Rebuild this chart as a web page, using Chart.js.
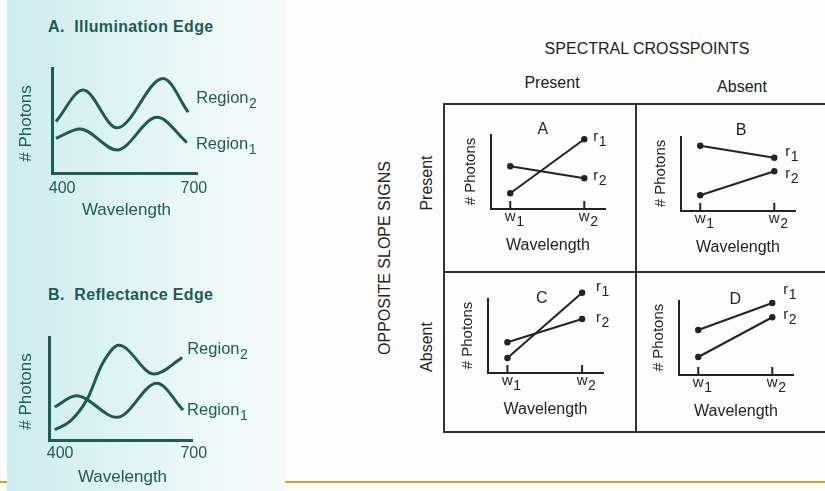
<!DOCTYPE html>
<html><head><meta charset="utf-8">
<script src="https://cdn.jsdelivr.net/npm/chart.js@4.4.1/dist/chart.umd.min.js"></script>
<style>
html,body{margin:0;padding:0;}
body{width:825px;height:491px;position:relative;overflow:hidden;background:#fdfdfd;font-family:"Liberation Sans",Arial,Helvetica,sans-serif;}
.abs{position:absolute;}
#orange{left:0;top:481px;width:825px;height:2px;background:#d9a521;}
#cyan{left:7px;top:0;width:278px;height:491px;background:linear-gradient(90deg,#cdecf0 0%,#dcf2f4 35%,#ecf8f8 70%,#f5fbfb 100%);}
canvas{position:absolute;left:0;top:0;}
.lc{position:absolute;transform:translateY(-50%);line-height:1;white-space:nowrap;}
.c{position:absolute;transform:translate(-50%,-50%);line-height:1;white-space:nowrap;}
.rot{position:absolute;transform:translate(-50%,-50%) rotate(-90deg);line-height:1;white-space:nowrap;}
.hl{position:absolute;background:#333;height:2px;}
.vl{position:absolute;background:#333;width:2px;}
.teal{color:#1d5c52;}
.ink{color:#222;}
</style></head>
<body>
<div id="orange" class="abs"></div>
<div id="cyan" class="abs"></div>

<div class="lc teal" style="left:48px;top:27px;font-size:16px;font-weight:bold;letter-spacing:0.35px;">A.&nbsp; Illumination Edge</div>
<div class="lc teal" style="left:48px;top:295px;font-size:16px;font-weight:bold;letter-spacing:0.35px;">B.&nbsp; Reflectance Edge</div>

<div class="c ink" style="left:647px;top:49px;font-size:16px;">SPECTRAL CROSSPOINTS</div>
<div class="c ink" style="left:552px;top:83px;font-size:16px;">Present</div>
<div class="c ink" style="left:742px;top:87px;font-size:16px;">Absent</div>
<div class="rot ink" style="left:385px;top:258px;font-size:16px;">OPPOSITE SLOPE SIGNS</div>
<div class="rot ink" style="left:427px;top:183px;font-size:16px;">Present</div>
<div class="rot ink" style="left:427px;top:347px;font-size:16px;">Absent</div>

<div class="hl" style="left:443px;top:103px;width:400px;"></div>
<div class="hl" style="left:443px;top:271px;width:400px;"></div>
<div class="hl" style="left:443px;top:431px;width:400px;"></div>
<div class="vl" style="left:443px;top:103px;height:330px;"></div>
<div class="vl" style="left:635px;top:103px;height:330px;"></div>

<script>
// ---------------- DATA ----------------
const wavelengthTicks = [400, 700];
const regionNames = ['Region1', 'Region2'];

const illumRegion1X = [386, 441, 525, 616, 684];
const illumRegion1Y = [33, 42, 22, 53, 29];
const illumRegion2X = [386, 448, 525, 630, 687];
const illumRegion2Y = [49, 79, 43, 90, 58];

const reflRegion1X = [388, 436, 528, 617, 676];
const reflRegion1Y = [32, 43, 22, 55, 29];
const reflRegion2X = [388, 422, 460, 496, 532, 611, 674];
const reflRegion2Y = [10, 18, 39, 75, 92, 64, 80];

const crossCategories = ['w1', 'w2'];
const crossSeriesNames = ['r1', 'r2'];
const panelA_r1 = [2.1, 9.3], panelA_r2 = [5.7, 4.1];
const panelB_r1 = [8.7, 7.1], panelB_r2 = [2.1, 5.3];
const panelC_r1 = [2.0, 10.7], panelC_r2 = [4.1, 7.2];
const panelD_r1 = [6.0, 9.6], panelD_r2 = [2.4, 7.7];

// ---------------- STYLE ----------------
const TEAL = '#1d5c52', INK = '#232323';
const FONT = '"Liberation Sans", Arial, Helvetica, sans-serif';
const f = (s, w) => (w || 'normal') + ' ' + s + 'px ' + FONT;

function splitLabel(s) { const m = s.match(/^(\D+)(\d*)$/); return [m[1], m[2]]; }

function drawSub(ctx, x, y, text, mainFont, subFont, subDy, align) {
  const [main, sub] = splitLabel(text);
  ctx.font = mainFont; const wm = ctx.measureText(main).width;
  ctx.font = subFont; const ws = ctx.measureText(sub).width;
  let x0 = x;
  if (align === 'center') x0 = x - (wm + ws) / 2;
  else if (align === 'mainCenter') x0 = x - wm / 2;
  ctx.textAlign = 'left';
  ctx.font = mainFont; ctx.fillText(main, x0, y);
  ctx.font = subFont; ctx.fillText(sub, x0 + wm + 0.5, y + subDy);
}

const decor = {
  id: 'decor',
  afterDatasetsDraw(chart, args, o) {
    const ctx = chart.ctx, a = chart.chartArea, xs = chart.scales.x, ys = chart.scales.y;
    ctx.save();
    ctx.fillStyle = o.color; ctx.strokeStyle = o.color; ctx.textBaseline = 'alphabetic';
    // y axis line up to a given value (when the scale leaves headroom above it)
    if (o.yAxisTop != null) {
      ctx.lineWidth = o.axisWidth; ctx.beginPath();
      const x = xs.getPixelForValue(xs.min);
      ctx.moveTo(x, ys.getPixelForValue(ys.min) + o.axisWidth / 2);
      ctx.lineTo(x, ys.getPixelForValue(o.yAxisTop));
      ctx.stroke();
    }
    // tick marks and tick labels
    o.tickValues.forEach((v, i) => {
      const px = xs.getPixelForValue(v);
      if (o.tickMark) {
        ctx.lineWidth = 2; ctx.beginPath();
        ctx.moveTo(px, a.bottom); ctx.lineTo(px, a.bottom - o.tickMark); ctx.stroke();
      }
      const lab = String(o.tickLabels[i]);
      if (o.tickSub) drawSub(ctx, px, a.bottom + o.tickDy, lab, o.tickFont, o.tickSubFont, o.tickSubDy, 'mainCenter');
      else { ctx.font = o.tickFont; ctx.textAlign = 'center'; ctx.fillText(lab, px, a.bottom + o.tickDy); }
    });
    // x title
    ctx.font = o.xTitleFont; ctx.textAlign = 'center';
    ctx.fillText(o.xTitle, (a.left + a.right) / 2 + (o.xTitleDx || 0), a.bottom + o.xTitleDy);
    // y title
    const yTop = o.yAxisTop != null ? ys.getPixelForValue(o.yAxisTop) : a.top;
    ctx.save();
    ctx.translate(o.yTitleX != null ? o.yTitleX : a.left - o.yTitleDx, (yTop + a.bottom) / 2 + (o.yTitleDy || 0));
    ctx.rotate(-Math.PI / 2);
    ctx.font = o.yTitleFont; ctx.textAlign = 'center';
    ctx.fillText(o.yTitle, 0, 0.36 * o.yTitleSize);
    ctx.restore();
    // series labels at last point of each dataset
    chart.data.datasets.forEach((ds, i) => {
      const meta = chart.getDatasetMeta(i);
      const last = meta.data[meta.data.length - 1];
      const off = o.labelOffsets[i];
      drawSub(ctx, last.x + off[0], last.y + off[1], o.seriesNames[i], o.labelFont, o.labelSubFont, o.labelSubDy, 'left');
    });
    // panel letter
    if (o.letter) {
      ctx.font = o.letterFont; ctx.textAlign = 'center';
      ctx.fillText(o.letter, xs.getPixelForValue(o.letterPos[0]), ys.getPixelForValue(o.letterPos[1]) + 0.36 * 16);
    }
    ctx.restore();
  }
};

function makeCanvas() {
  const c = document.createElement('canvas');
  c.width = 825; c.height = 491;
  document.body.appendChild(c);
  return c;
}
function padFor(area) { return { left: area[0], top: area[1], right: 825 - area[2], bottom: 491 - area[3] }; }
function axis(min, max, color, width, isX, showBorder) {
  return {
    type: 'linear', min, max, display: true,
    grid: { display: false, drawTicks: false },
    border: { display: showBorder !== false, color, width },
    ticks: { display: false },
    afterFit(s) { if (isX) s.height = 0; else s.width = 0; }
  };
}
function pts(xsArr, ysArr) { return xsArr.map((x, i) => ({ x, y: ysArr[i] })); }

// ---------------- LEFT: smooth spectra ----------------
function spectrumChart(area, xmin, xmax, r1, r2, tickDy, labelOffsets) {
  new Chart(makeCanvas(), {
    type: 'line',
    data: {
      datasets: [r1, r2].map(d => ({
        data: d, borderColor: TEAL, borderWidth: 3, pointRadius: 0,
        cubicInterpolationMode: 'monotone', fill: false, clip: false
      }))
    },
    options: {
      responsive: false, animation: false, devicePixelRatio: 1,
      layout: { padding: padFor(area) },
      events: [],
      plugins: {
        legend: { display: false }, tooltip: { enabled: false },
        decor: {
          color: TEAL,
          tickValues: wavelengthTicks, tickLabels: wavelengthTicks, tickMark: 0, tickSub: false,
          tickFont: f(16), tickDy: tickDy,
          xTitle: 'Wavelength', xTitleFont: f(17), xTitleDy: 42, xTitleDx: 2,
          yTitle: '# Photons', yTitleFont: f(17), yTitleSize: 17, yTitleX: 25, yTitleDy: 3,
          seriesNames: regionNames, labelOffsets,
          labelFont: f(16.5), labelSubFont: f(14), labelSubDy: 5
        }
      },
      scales: { x: axis(xmin, xmax, TEAL, 3, true), y: axis(0, 100, TEAL, 3, false) }
    },
    plugins: [decor]
  });
}

spectrumChart([52, 68, 197, 173], 377, 707,
  pts(illumRegion1X, illumRegion1Y), pts(illumRegion2X, illumRegion2Y), 20, [[9, 6], [8, -9]]);
spectrumChart([49, 337, 192, 440], 375, 696,
  pts(reflRegion1X, reflRegion1Y), pts(reflRegion2X, reflRegion2Y), 18, [[4, 5], [5, -4]]);

// ---------------- RIGHT: crosspoint panels ----------------
// area top is the top of the drawn y axis; the scale keeps one unit of headroom above it
function crossChart(area, letter, letterPos, r1, r2, labelOffsets) {
  const xv = crossCategories.map((c, i) => i + 1);
  const unit = (area[3] - area[1]) / 10;
  const plot = [area[0], area[1] - unit, area[2], area[3]];
  new Chart(makeCanvas(), {
    type: 'line',
    data: {
      datasets: [r1, r2].map(d => ({
        data: d.map((y, i) => ({ x: xv[i], y })),
        borderColor: INK, borderWidth: 2, tension: 0,
        pointRadius: 3.2, pointBackgroundColor: INK, pointBorderWidth: 0,
        fill: false, clip: false
      }))
    },
    options: {
      responsive: false, animation: false, devicePixelRatio: 1,
      layout: { padding: padFor(plot) },
      events: [],
      plugins: {
        legend: { display: false }, tooltip: { enabled: false },
        decor: {
          color: INK, yAxisTop: 10, axisWidth: 2,
          tickValues: xv, tickLabels: crossCategories, tickMark: 8, tickSub: true,
          tickFont: f(15), tickSubFont: f(14), tickSubDy: 5, tickDy: 12,
          xTitle: 'Wavelength', xTitleFont: f(16), xTitleDy: 41,
          yTitle: '# Photons', yTitleFont: f(15), yTitleSize: 15, yTitleDx: 21,
          seriesNames: crossSeriesNames, labelOffsets,
          labelFont: f(15), labelSubFont: f(14), labelSubDy: 5,
          letter, letterPos, letterFont: f(16)
        }
      },
      scales: { x: axis(0.74, 2.28, INK, 2, true), y: axis(0, 11, INK, 2, false, false) }
    },
    plugins: [decor]
  });
}

crossChart([491, 134, 605, 209], 'A', [1.44, 10.8], panelA_r1, panelA_r2, [[9, 2], [9, 2]]);
crossChart([681, 136, 795, 211], 'B', [1.55, 10.9], panelB_r1, panelB_r2, [[11, -2], [11, 7]]);
crossChart([488, 298, 603, 373], 'C', [1.46, 10.1], panelC_r1, panelC_r2, [[14, -2], [14, 3]]);
crossChart([679, 300, 793, 375], 'D', [1.50, 10.3], panelD_r1, panelD_r2, [[11, -9], [11, 2]]);
</script>
</body></html>
